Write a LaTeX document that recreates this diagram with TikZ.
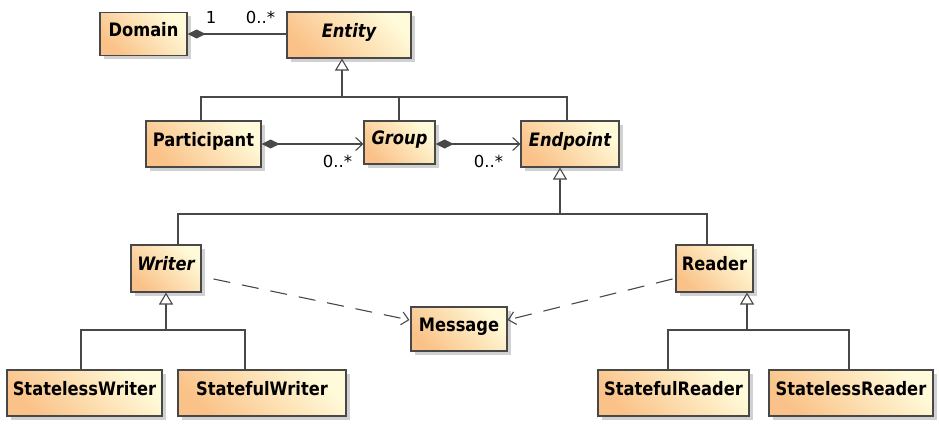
\documentclass[tikz,border=0pt]{standalone}
\usepackage{fontspec}
\setmainfont{DejaVu Sans}
\newfontfamily\clsfont[FakeStretch=0.88]{DejaVu Sans}
\usetikzlibrary{arrows.meta,shadows,calc}
\definecolor{boxA}{RGB}{250,194,136}
\definecolor{boxB}{RGB}{255,251,218}
\definecolor{lineC}{RGB}{72,72,72}
\begin{document}
\begin{tikzpicture}[x=1pt,y=-1pt,
  cls/.style={draw=lineC, line width=1.1pt, top color=boxA, bottom color=boxB, shading angle=135,
    drop shadow={shadow xshift=3.5pt, shadow yshift=-3.5pt, fill=black!40, opacity=0.45},
    inner sep=0pt, text height=13pt, text depth=9pt, text=black,
    font=\clsfont\bfseries\fontsize{18.5}{21}\selectfont},
  abs/.style={cls, font=\clsfont\bfseries\itshape\fontsize{18.5}{21}\selectfont},
  conn/.style={draw=lineC, line width=1.1pt},
  gen/.style={conn, -{Triangle[open, length=12pt, width=14pt, fill=white]}},
  comp/.style={conn, {Diamond[length=18pt, width=9pt, fill=lineC]}-},
  assoc/.style={conn, {Diamond[length=18pt, width=9pt, fill=lineC]}-{Straight Barb[length=7pt, width=13pt]}},
  dep/.style={conn, dash pattern=on 17pt off 12pt, -{Straight Barb[length=7pt, width=13pt]}},
  mult/.style={font=\fontsize{16.5}{19}\selectfont, inner sep=0pt, anchor=base, text=black}
]
\useasboundingbox (0,0) rectangle (939,429);

% classes
\node[cls, minimum width=87pt, minimum height=43pt] (domain) at (143.5,34) {Domain};
\node[abs, minimum width=124pt, minimum height=46pt] (entity) at (349,35) {Entity};
\node[cls, minimum width=115pt, minimum height=46pt] (participant) at (203.5,144) {Participant};
\node[abs, minimum width=71pt, minimum height=43pt] (group) at (399.5,142.5) {Group};
\node[abs, minimum width=98pt, minimum height=46pt] (endpoint) at (570,144) {Endpoint};
\node[abs, minimum width=70pt, minimum height=47pt] (writer) at (166,268.5) {Writer};
\node[cls, minimum width=77pt, minimum height=47pt] (reader) at (714.5,268.5) {Reader};
\node[cls, minimum width=96pt, minimum height=44pt] (message) at (459,329) {Message};
\node[cls, minimum width=155pt, minimum height=46pt] (slw) at (84.5,393) {StatelessWriter};
\node[cls, minimum width=168pt, minimum height=46pt] (sfw) at (262,393) {StatefulWriter};
\node[cls, minimum width=151pt, minimum height=46pt] (sfr) at (673.5,393) {StatefulReader};
\node[cls, minimum width=164pt, minimum height=46pt] (slr) at (851,393) {StatelessReader};

% multiplicities
\node[mult] (m1) at (211,23) {1};
\node[mult] (m2) at (260.5,23) {0..*};
\node[mult] (m3) at (337.5,167) {0..*};
\node[mult] (m4) at (488.5,167) {0..*};

% associations
\draw[comp] (domain.east) -- (domain.east -| entity.west);
\draw[assoc] (participant.east) -- (participant.east -| group.west);
\draw[assoc] (endpoint.west -| group.east) -- (endpoint.west);

% generalizations
\coordinate (b1) at (342,97);
\draw[conn] ([xshift=-2.5pt]participant.north) |- (b1);
\draw[conn] ([xshift=-0.5pt]group.north) |- (b1);
\draw[conn] ([xshift=-3pt]endpoint.north) |- (b1);
\draw[gen] (b1) -- ([xshift=-7pt]entity.south);

\coordinate (b2) at (560,214);
\draw[conn] ([xshift=12pt]writer.north) |- (b2);
\draw[conn] ([xshift=-7.5pt]reader.north) |- (b2);
\draw[gen] (b2) -- ([xshift=-10pt]endpoint.south);

\coordinate (b3) at (166,330);
\draw[conn] ([xshift=-3.5pt]slw.north) |- (b3);
\draw[conn] ([xshift=-17pt]sfw.north) |- (b3);
\draw[gen] (b3) -- (writer.south);

\coordinate (b4) at (747,330);
\draw[conn] ([xshift=-5.5pt]sfr.north) |- (b4);
\draw[conn] ([xshift=-2pt]slr.north) |- (b4);
\draw[gen] (b4) -- ([xshift=32.5pt]reader.south);

% dependencies
\draw[dep] ($(writer.east)+(12,10.5)$) -- ($(message.west)+(-1,-9)$);
\draw[dep] ($(reader.west)+(-3,10.5)$) -- ($(message.east)+(0,-9)$);
\end{tikzpicture}
\end{document}
